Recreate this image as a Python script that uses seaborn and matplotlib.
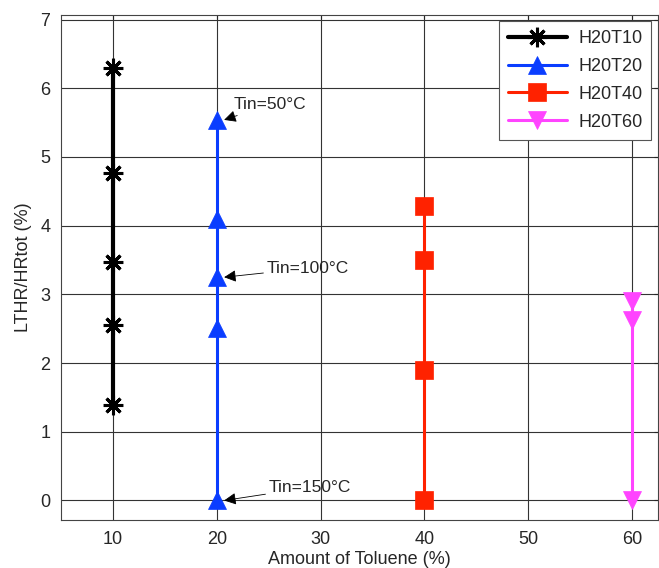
import pandas as pd
import seaborn as sns
import matplotlib.pyplot as plt

##########
## Data ##
##########

series_names = ["H20T10", "H20T20", "H20T40", "H20T60"]
toluene = [10, 20, 40, 60]
lthr_t10 = [6.30, 4.76, 3.47, 2.56, 1.39]
lthr_t20 = [5.54, 4.09, 3.25, 2.51, 0.0]
lthr_t40 = [4.29, 3.50, 1.90, 0.0]
lthr_t60 = [2.91, 2.63, 0.0]

annot_labels = ["Tin=50°C", "Tin=100°C", "Tin=150°C"]
annot_points = [5.54, 3.25, 0.0]

all_y = [lthr_t10, lthr_t20, lthr_t40, lthr_t60]
df = pd.concat([
    pd.DataFrame({"series": name, "toluene": x, "lthr": ys})
    for name, x, ys in zip(series_names, toluene, all_y)
], ignore_index=True)

colors = ["#000000", "#0a3dff", "#ff2200", "#ff44ff"]
markers = [(8, 2, 0), "^", "s", "v"]
lws = [3.0, 2.2, 2.2, 2.2]

sns.set_style("white")
plt.rcParams['font.family'] = ['Liberation Sans', 'DejaVu Sans']

fig = plt.figure(figsize=(6.59, 5.68), dpi=100)
ax = fig.add_axes([0.093, 0.085, 0.905, 0.889])

for name, c, m, lw in zip(series_names, colors, markers, lws):
    sub = df[df.series == name]
    sns.lineplot(data=sub, x="toluene", y="lthr", ax=ax, color=c, lw=lw,
                 marker=m, markersize=13 if m != markers[0] else 14,
                 markeredgewidth=2.2 if m == markers[0] else 0.5,
                 markeredgecolor=c, estimator=None, sort=False, label=name)

# annotations with arrows (MATLAB-style)
text_pos = [(21.6, 5.76), (24.8, 3.38), (25.0, 0.19)]
for lab, yp, (tx, ty) in zip(annot_labels, annot_points, text_pos):
    ax.annotate(lab, xy=(20.7, yp), xytext=(tx, ty), fontsize=12.5,
                va="center", ha="left",
                arrowprops=dict(arrowstyle="-|>", color="black", lw=0.6,
                                mutation_scale=18, shrinkA=0, shrinkB=0))

ax.set_xlim(5, 62.5)
ax.set_ylim(-0.28, 7.07)
ax.set_xticks([10, 20, 30, 40, 50, 60])
ax.set_yticks(range(0, 8))
ax.grid(True, color="#333333", lw=0.8)
ax.tick_params(direction="in", length=3, labelsize=13, top=True, right=True,
               pad=8)
for s in ax.spines.values():
    s.set_color("#444444")
    s.set_linewidth(0.8)

ax.set_xlabel("Amount of Toluene (%)", fontsize=13, labelpad=2)
ax.set_ylabel("LTHR/HRtot (%)", fontsize=13, labelpad=6)

leg = ax.legend(loc="upper right", fontsize=13, frameon=True, fancybox=False,
                edgecolor="#555555", framealpha=1, handlelength=3.3,
                borderaxespad=0.35, labelspacing=0.6, handletextpad=0.6,
                borderpad=0.5)
leg.get_frame().set_linewidth(0.8)

plt.savefig("out.png", dpi=100)
